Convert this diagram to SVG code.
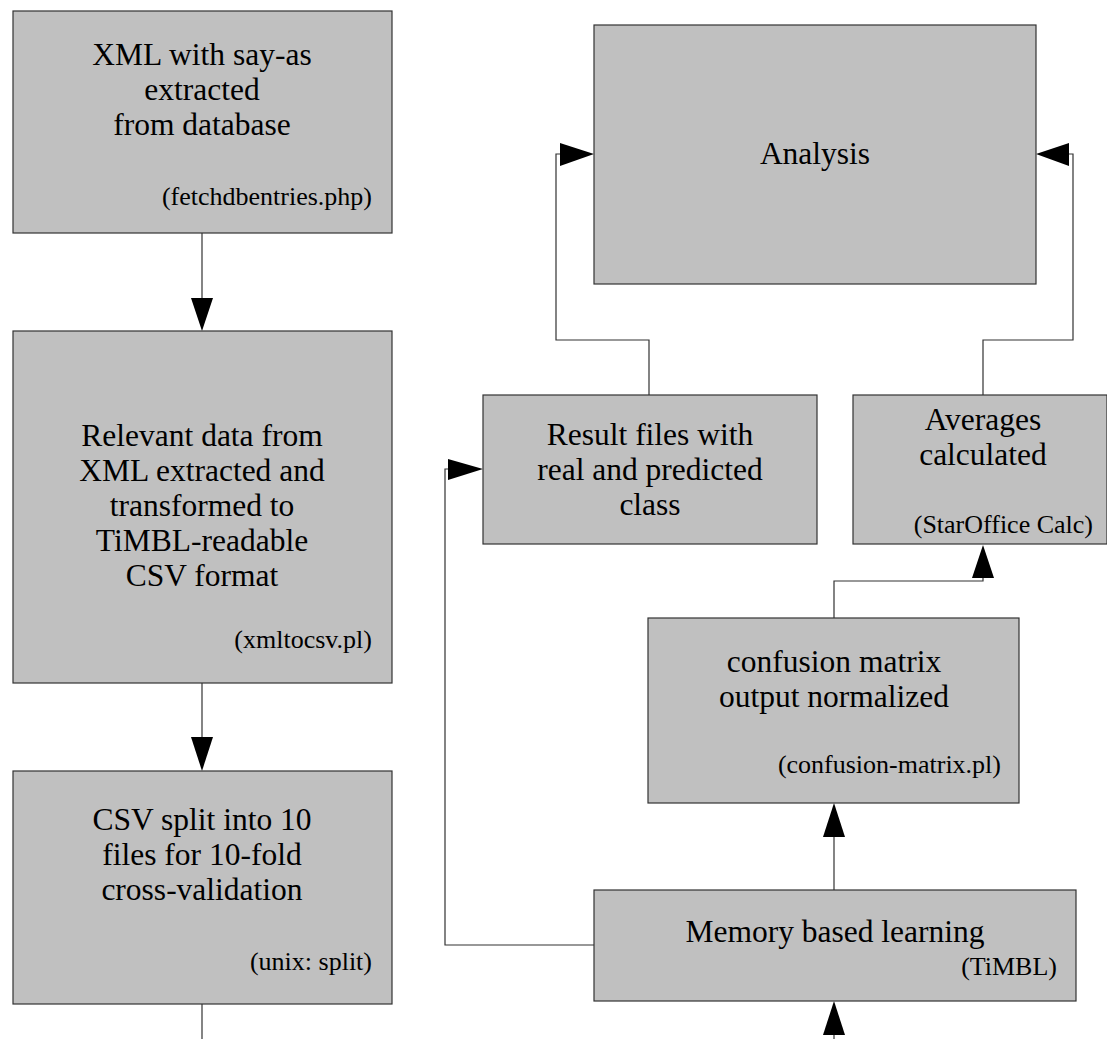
<svg xmlns="http://www.w3.org/2000/svg" width="1107" height="1039" viewBox="0 0 1107 1039">
<style>
.box{fill:#c0c0c0;stroke:#333;stroke-width:1.2}
.t{font-family:'Liberation Serif','Tinos','DejaVu Serif',serif;font-size:31.5px;fill:#000;text-anchor:middle}
.s{font-family:'Liberation Serif','Tinos','DejaVu Serif',serif;font-size:26px;fill:#000;text-anchor:end}
.ln{fill:none;stroke:#333;stroke-width:1.2}
.ah{fill:#000;stroke:none}
</style>
<rect width="1107" height="1039" fill="#fff"/>
<g id="connectors">
<polyline class="ln" points="202,233 202,299"/>
<polygon class="ah" points="191,298 213,298 202,331"/>
<polyline class="ln" points="202,683 202,738"/>
<polygon class="ah" points="191,737 213,737 202,771"/>
<polyline class="ln" points="202,1004 202,1039"/>
<polyline class="ln" points="649,395 649,340 556,340 556,154 561,154"/>
<polygon class="ah" points="560,143 560,166 594,154"/>
<polyline class="ln" points="983,395 983,340 1073,340 1073,154 1068,154"/>
<polygon class="ah" points="1069,143 1069,166 1036,154"/>
<polyline class="ln" points="834,618 834,581 983,581 983,577"/>
<polygon class="ah" points="972,578 994,578 983,545"/>
<polyline class="ln" points="834,890 834,836"/>
<polygon class="ah" points="823,837 845,837 834,803"/>
<polyline class="ln" points="594,945 445,945 445,469 449,469"/>
<polygon class="ah" points="448,459 448,480 483,469"/>
<polyline class="ln" points="834,1039 834,1034"/>
<polygon class="ah" points="823,1035 845,1035 834,1001"/>
</g>
<g id="node-xml">
<rect class="box" x="13" y="11" width="379" height="222"/>
<text class="t" x="202" y="65">XML with say-as</text>
<text class="t" x="202" y="100">extracted</text>
<text class="t" x="202" y="135">from database</text>
<text class="s" x="372" y="205">(fetchdbentries.php)</text>
</g>
<g id="node-relevant">
<rect class="box" x="13" y="331" width="379" height="352"/>
<text class="t" x="202" y="446">Relevant data from</text>
<text class="t" x="202" y="481">XML extracted and</text>
<text class="t" x="202" y="516">transformed to</text>
<text class="t" x="202" y="551">TiMBL-readable</text>
<text class="t" x="202" y="586">CSV format</text>
<text class="s" x="372" y="648">(xmltocsv.pl)</text>
</g>
<g id="node-split">
<rect class="box" x="13" y="771" width="379" height="233"/>
<text class="t" x="202" y="830">CSV split into 10</text>
<text class="t" x="202" y="865">files for 10-fold</text>
<text class="t" x="202" y="900">cross-validation</text>
<text class="s" x="372" y="970">(unix: split)</text>
</g>
<g id="node-analysis">
<rect class="box" x="594" y="25" width="442" height="259"/>
<text class="t" x="815" y="164">Analysis</text>
</g>
<g id="node-result">
<rect class="box" x="483" y="395" width="334" height="149"/>
<text class="t" x="650" y="445">Result files with</text>
<text class="t" x="650" y="480">real and predicted</text>
<text class="t" x="650" y="515">class</text>
</g>
<g id="node-averages">
<rect class="box" x="853" y="395" width="254" height="149"/>
<text class="t" x="983" y="430">Averages</text>
<text class="t" x="983" y="465">calculated</text>
<text class="s" x="1093" y="533">(StarOffice Calc)</text>
</g>
<g id="node-confusion">
<rect class="box" x="648" y="618" width="371" height="185"/>
<text class="t" x="834" y="672">confusion matrix</text>
<text class="t" x="834" y="707">output normalized</text>
<text class="s" x="1001" y="773">(confusion-matrix.pl)</text>
</g>
<g id="node-memory">
<rect class="box" x="594" y="890" width="482" height="111"/>
<text class="t" x="835" y="942">Memory based learning</text>
<text class="s" x="1057" y="975">(TiMBL)</text>
</g>
</svg>
